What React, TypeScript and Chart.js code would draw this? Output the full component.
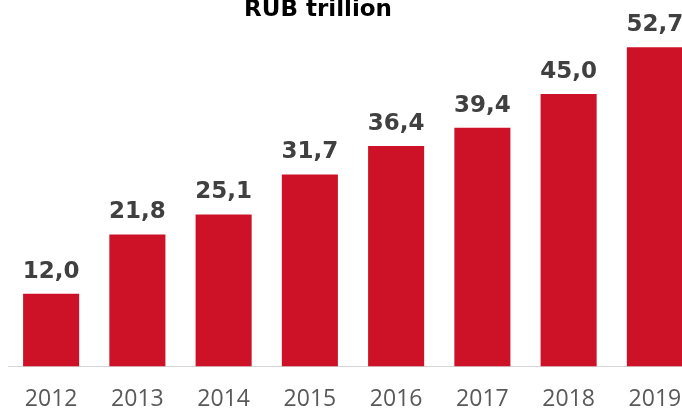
import React, { useEffect, useRef } from "react";
import { Chart, registerables } from "chart.js";

Chart.register(...registerables);

const categories = ["2012", "2013", "2014", "2015", "2016", "2017", "2018", "2019"];
const values = [12.0, 21.8, 25.1, 31.7, 36.4, 39.4, 45.0, 52.7];
const titleText = "RUB trillion";

const BAR_COLOR = "#CD1228";
const LABEL_COLOR = "#404040";
const TICK_COLOR = "#595959";

const fmt = (v: number) => v.toFixed(1).replace(".", ",");

const labelPlugin = {
  id: "valueLabels",
  afterDatasetsDraw(chart: any) {
    const ctx = chart.ctx;
    const meta = chart.getDatasetMeta(0);
    ctx.save();
    ctx.font = "bold 23px 'DejaVu Sans'";
    ctx.fillStyle = LABEL_COLOR;
    ctx.textAlign = "center";
    ctx.textBaseline = "alphabetic";
    meta.data.forEach((el: any, i: number) => {
      ctx.fillText(fmt(values[i]), el.x, el.y - 16);
    });
    ctx.restore();
  },
};

const titlePlugin = {
  id: "topTitle",
  afterDraw(chart: any) {
    const ctx = chart.ctx;
    ctx.save();
    ctx.font = "bold 23px 'DejaVu Sans'";
    ctx.fillStyle = "#000000";
    ctx.textAlign = "center";
    ctx.textBaseline = "alphabetic";
    ctx.fillText(titleText, 318, 16);
    ctx.restore();
  },
};

export default function App() {
  const ref = useRef<HTMLCanvasElement>(null);
  useEffect(() => {
    if (!ref.current) return;
    const chart = new Chart(ref.current, {
      type: "bar",
      data: {
        labels: categories,
        datasets: [
          {
            data: values,
            backgroundColor: BAR_COLOR,
            borderWidth: 0,
            categoryPercentage: 1,
            barPercentage: 0.65,
          },
        ],
      },
      options: {
        animation: false,
        responsive: false,
        devicePixelRatio: 1,
        layout: { padding: { left: 8, right: 22, top: 3, bottom: 1.5 } },
        plugins: { legend: { display: false }, tooltip: { enabled: false }, title: { display: false } },
        scales: {
          x: {
            grid: { display: false, drawTicks: false },
            border: { display: true, color: "#D6D6D6", width: 1 },
            ticks: {
              color: TICK_COLOR,
              padding: 21.5,
              font: { family: "'Open Sans'", size: 23, lineHeight: 1 },
            },
          },
          y: { display: false, min: 0, max: 60 },
        },
      },
      plugins: [labelPlugin, titlePlugin],
    });
    return () => chart.destroy();
  }, []);
  return (
    <div style={{ position: "fixed", left: 0, top: 0, width: 682, height: 408, overflow: "hidden", background: "#fff" }}>
      <canvas ref={ref} width={720} height={434} style={{ display: "block" }} />
    </div>
  );
}
